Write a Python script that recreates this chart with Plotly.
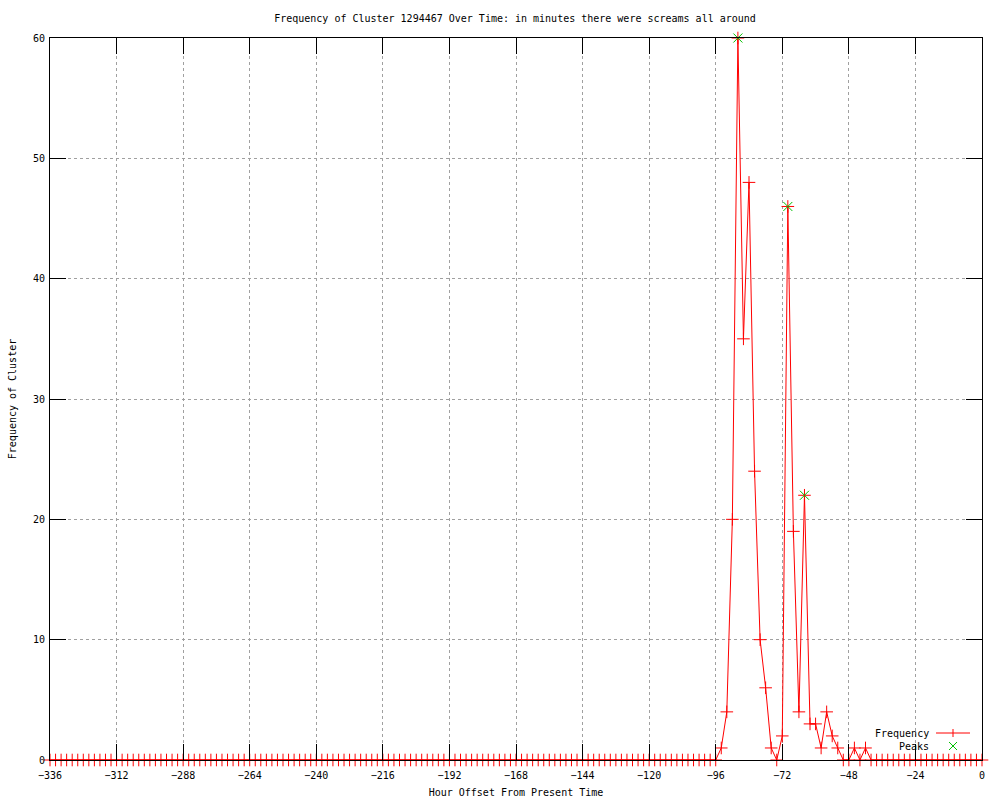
import plotly.graph_objects as go

# Hour offsets (every 2 hours from -336 to 0)
hours = list(range(-336, 1, 2))

# Non-zero frequency region (hour -> count)
active_hours = [-96, -94, -92, -90, -88, -86, -84, -82, -80, -78, -76, -74, -72, -70,
                -68, -66, -64, -62, -60, -58, -56, -54, -52, -50, -48, -46, -44, -42, -40]
active_values = [0, 1, 4, 20, 60, 35, 48, 24, 10, 6, 1, 0, 2, 46,
                 19, 4, 22, 3, 3, 1, 4, 2, 1, 0, 0, 1, 0, 1, 0]

lookup = dict(zip(active_hours, active_values))
frequency = [lookup.get(h, 0) for h in hours]

peak_hours = [-88, -70, -64]
peak_values = [60, 46, 22]

x_ticks = list(range(-336, 1, 24))
y_ticks = [0, 10, 20, 30, 40, 50, 60]

FONT = "DejaVu Sans Mono"
RED = "#ff0000"
GREEN = "#00c000"

fig = go.Figure()

fig.add_trace(go.Scatter(
    x=hours, y=frequency, mode="lines+markers", name="Frequency",
    line=dict(color=RED, width=1),
    marker=dict(symbol="cross-thin", size=9, line=dict(color=RED, width=1), color=RED),
    cliponaxis=False, showlegend=False,
))
fig.add_trace(go.Scatter(
    x=peak_hours, y=peak_values, mode="markers", name="Peaks",
    marker=dict(symbol="x-thin", size=9, line=dict(color=GREEN, width=1), color=GREEN),
    cliponaxis=False, showlegend=False,
))

axis_common = dict(
    showline=True, linecolor="black", linewidth=1, mirror="ticks",
    ticks="inside", ticklen=16, tickcolor="black", tickwidth=1,
    showgrid=True, gridcolor="#a0a0a0", griddash="dot", gridwidth=1,
    zeroline=False, tickfont=dict(family=FONT, size=10, color="black"),
    automargin=False,
)

fig.update_xaxes(range=[-336, 0], tickvals=x_ticks, ticktext=[str(v).replace("-", "\u2212") for v in x_ticks],
                 ticklabelstandoff=6,
                 title=dict(text="Hour Offset From Present Time", font=dict(family=FONT, size=10, color="black"), standoff=8),
                 **axis_common)
fig.update_yaxes(range=[0, 60], tickvals=y_ticks, ticklabelstandoff=2,
                 title=dict(text="Frequency of Cluster", font=dict(family=FONT, size=10, color="black"), standoff=14),
                 **axis_common)

# custom gnuplot-style legend (text left, sample right)
tx = (931 - 49.5) / 932.5
fig.add_annotation(xref="paper", yref="paper", x=tx, y=(760 - 733) / 722, xanchor="right", yanchor="middle",
                   text="Frequency", showarrow=False, font=dict(family=FONT, size=10, color="black"))
fig.add_annotation(xref="paper", yref="paper", x=tx, y=(760 - 746) / 722, xanchor="right", yanchor="middle",
                   text="Peaks", showarrow=False, font=dict(family=FONT, size=10, color="black"))
lx0 = (936 - 49.5) / 932.5
lx1 = (970 - 49.5) / 932.5
lxc = (953 - 49.5) / 932.5
ly1 = (760 - 733) / 722
ly2 = (760 - 746) / 722
dx = 4 / 932.5
dy = 4 / 722
fig.add_shape(type="line", xref="paper", yref="paper", x0=lx0, x1=lx1, y0=ly1, y1=ly1, line=dict(color=RED, width=1))
fig.add_shape(type="line", xref="paper", yref="paper", x0=lxc, x1=lxc, y0=ly1 - dy, y1=ly1 + dy, line=dict(color=RED, width=1))
fig.add_shape(type="line", xref="paper", yref="paper", x0=lxc - dx, x1=lxc + dx, y0=ly2 - dy, y1=ly2 + dy, line=dict(color=GREEN, width=1))
fig.add_shape(type="line", xref="paper", yref="paper", x0=lxc - dx, x1=lxc + dx, y0=ly2 + dy, y1=ly2 - dy, line=dict(color=GREEN, width=1))

fig.update_layout(
    width=1000, height=800,
    margin=dict(l=49.5, r=18, t=38, b=40),
    paper_bgcolor="white", plot_bgcolor="white",
    title=dict(text="Frequency of Cluster 1294467 Over Time: in minutes there were screams all around",
               x=0.515, xanchor="center", y=1 - 18 / 800, yanchor="middle",
               font=dict(family=FONT, size=10, color="black")),
    showlegend=False,
)

fig.write_html("out.html", config={"displayModeBar": False},
               post_script="document.body.style.margin='0';document.body.style.overflow='hidden';")
